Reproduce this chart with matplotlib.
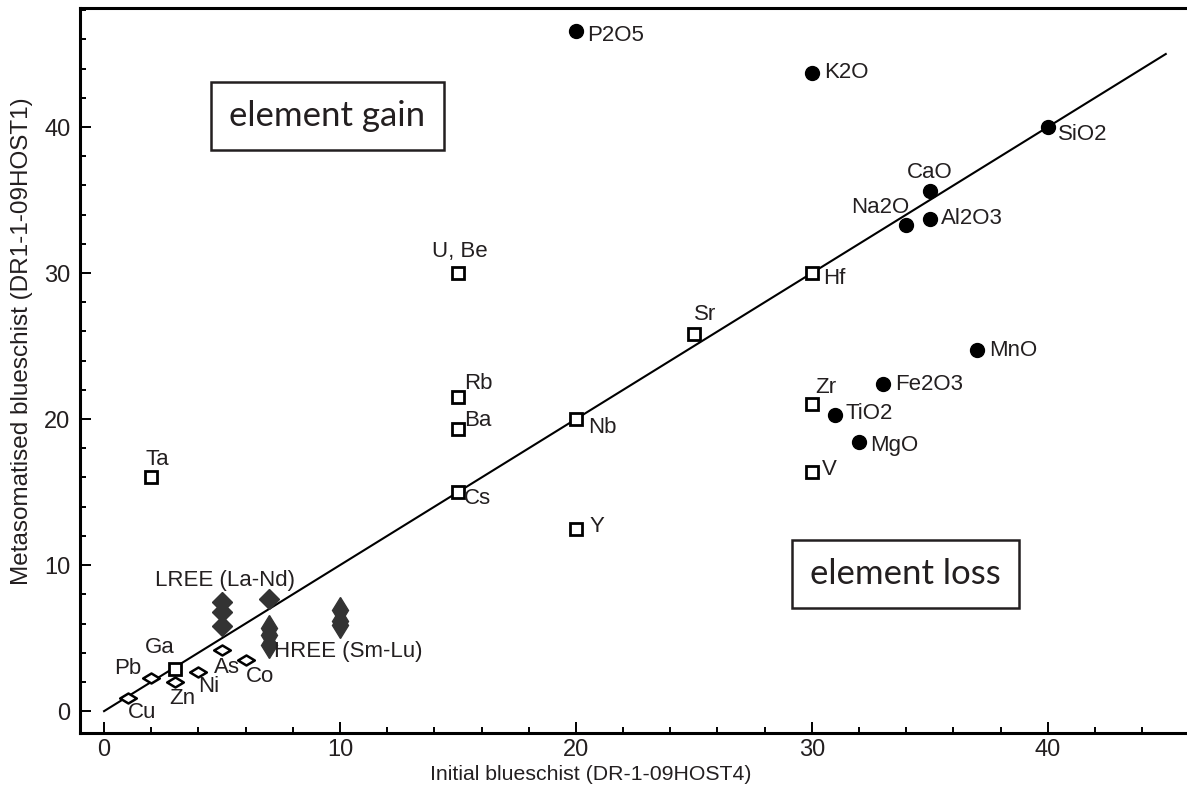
import matplotlib
matplotlib.use("Agg")
import matplotlib.pyplot as plt
from matplotlib import font_manager
from matplotlib.path import Path

# major oxides (filled circles)
oxides = ["P2O5", "K2O", "SiO2", "CaO", "Na2O", "Al2O3", "MnO", "Fe2O3", "TiO2", "MgO"]
oxide_x = [20, 30, 40, 35, 34, 35, 37, 33, 31, 32]
oxide_y = [46.6, 43.7, 40.0, 35.6, 33.3, 33.7, 24.7, 22.4, 20.3, 18.4]

# trace elements (open squares)
traces = ["Hf", "Sr", "Zr", "V", "Nb", "Y", "U, Be", "Rb", "Ba", "Cs", "Ta", "Ga"]
trace_x = [30, 25, 30, 30, 20, 20, 15, 15, 15, 15, 2, 3]
trace_y = [30.0, 25.8, 21.0, 16.4, 20.0, 12.5, 30.0, 21.5, 19.3, 15.0, 16.0, 2.9]

# metals (small open diamonds)
metals = ["Cu", "Pb", "Zn", "Ni", "As", "Co"]
metal_x = [1, 2, 3, 4, 5, 6]
metal_y = [0.9, 2.3, 2.0, 2.7, 4.2, 3.5]

# rare earths (filled diamonds)
lree_x = [5, 5, 5, 7]
lree_y = [7.5, 6.8, 5.8, 7.65]
hree_x = [7, 7, 7, 10, 10, 10]
hree_y = [5.7, 5.2, 4.5, 6.9, 6.2, 5.9]

# label offsets in points: (dx, dy, ha)
oxide_off = [(8.4, -3.3, "left"), (8.9, 0.4, "left"), (7.4, -5.3, "left"),
             (0, 13.2, "center"), (2.4, 12.7, "right"), (7.9, 0.5, "left"),
             (9, 0, "left"), (8.9, 0, "left"), (7.4, 0.7, "left"), (7.9, -2.4, "left")]
trace_off = [(7.9, -3.6, "left"), (0, 14.4, "left"), (2.2, 12.2, "left"),
             (7.2, 1.7, "left"), (8.6, -5.8, "left"), (10, 1.4, "left"),
             (1.4, 15.5, "center"), (4.1, 9.9, "left"), (4.1, 6, "left"),
             (4.1, -4.8, "left"), (-4.3, 12.7, "left"), (0, 15.1, "right")]
metal_off = [(0, -10.6, "left"), (-7.2, 6.7, "right"), (-4, -11.7, "left"),
             (0, -10.8, "left"), (-5.8, -13, "left"), (0.5, -12, "left")]

names = {f.name for f in font_manager.fontManager.ttflist}
narrow = "Liberation Sans Narrow" if "Liberation Sans Narrow" in names else "Liberation Sans"
ink = "#231f20"

plt.rcParams["font.family"] = ["Liberation Sans", "DejaVu Sans"]

fig = plt.figure(figsize=(11.87, 7.85), dpi=100)
ax = fig.add_axes([0.0674, 0.0662, 0.9326, 0.9236])
ax.set_xlim(-1.02, 45.9)
ax.set_ylim(-1.5, 48.15)

# 1:1 line
ax.plot([0, 45], [0, 45], color="black", lw=1.5, zorder=2)

flat_diamond = Path([(-1, 0), (0, 0.6), (1, 0), (0, -0.6), (-1, 0)],
                    [Path.MOVETO, Path.LINETO, Path.LINETO, Path.LINETO, Path.CLOSEPOLY])

ax.plot(oxide_x, oxide_y, "o", ms=10, color="black", ls="none", zorder=3)
ax.plot(trace_x, trace_y, "s", ms=8.5, mfc="white", mec="black", mew=2, ls="none", zorder=3)
ax.plot(metal_x, metal_y, marker=flat_diamond, ms=12, mfc="white", mec="black",
        mew=1.8, ls="none", zorder=3)
ax.plot(lree_x, lree_y, "D", ms=10, color="#333333", ls="none", zorder=3)
ax.plot(hree_x, hree_y, "d", ms=13, color="#333333", ls="none", zorder=3)

def label(names_, xs, ys, offs):
    for n, x, y, (dx, dy, ha) in zip(names_, xs, ys, offs):
        ax.annotate(n, (x, y), xytext=(dx, dy), textcoords="offset points",
                    ha=ha, va="center", fontsize=16, color=ink, zorder=4)

label(oxides, oxide_x, oxide_y, oxide_off)
label(traces, trace_x, trace_y, trace_off)
label(metals, metal_x, metal_y, metal_off)
ax.text(5.11, 8.97, "LREE (La-Nd)", ha="center", va="center", fontsize=16, color=ink)
ax.text(7.2, 4.1, "HREE (Sm-Lu)", ha="left", va="center", fontsize=16, color=ink)

# region boxes
box = dict(boxstyle="square,pad=0.52", fc="white", ec=ink, lw=1.8)
ax.text(9.47, 40.75, "element gain", ha="center", va="center", fontsize=25,
        family="Lato", color=ink, bbox=box)
ax.text(33.98, 9.38, "element loss", ha="center", va="center", fontsize=25,
        family="Lato", color=ink, bbox=box)

ax.set_xticks(range(0, 41, 10))
ax.set_xticks(range(0, 45, 2), minor=True)
ax.set_yticks(range(0, 41, 10))
ax.set_yticks(range(0, 49, 2), minor=True)
ax.tick_params(which="both", direction="in", width=1.4, top=False, right=False,
               colors="black", labelcolor=ink)
ax.tick_params(which="major", length=8, labelsize=17)
ax.tick_params(axis="x", which="major", pad=4)
ax.tick_params(axis="y", which="major", pad=7)
ax.tick_params(which="minor", length=4.3)
for lab in ax.get_xticklabels() + ax.get_yticklabels():
    lab.set_family(narrow)

ax.spines["right"].set_visible(False)
for s in ("left", "bottom", "top"):
    ax.spines[s].set_linewidth(2.2)

ax.set_xlabel("Initial blueschist (DR-1-09HOST4)", family=narrow, fontsize=15.3,
              color=ink)
ax.set_ylabel("Metasomatised blueschist (DR1-1-09HOST1)", family=narrow, fontsize=17.5,
              color=ink)
ax.xaxis.set_label_coords(0.4616, -0.044)
ax.yaxis.set_label_coords(-0.052, 0.54)
ax.yaxis.label.set_va("center")

fig.savefig("out.png", dpi=100)
